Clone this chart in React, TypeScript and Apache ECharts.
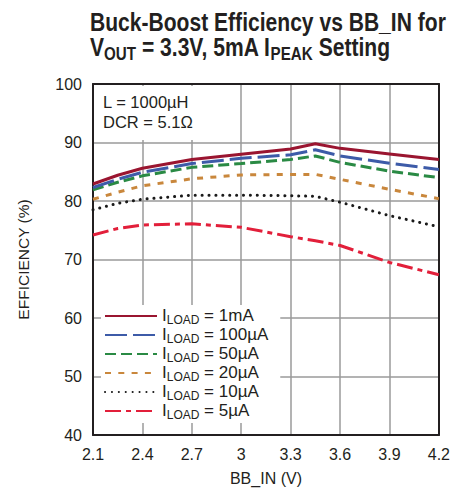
import React, { useEffect, useRef } from 'react';
import * as echarts from 'echarts';

// BB_IN (V) sample points
const bbIn = [2.1, 2.25, 2.4, 2.7, 3.0, 3.3, 3.45, 3.6, 3.9, 4.2];
// Efficiency (%) for each load current
const eff1mA = [82.9, 84.4, 85.6, 87.1, 88.0, 88.9, 89.8, 89.0, 88.05, 87.1];
const eff100uA = [82.3, 83.7, 84.9, 86.4, 87.3, 87.9, 88.75, 87.7, 86.45, 85.4];
const eff50uA = [81.9, 83.2, 84.3, 85.75, 86.4, 87.1, 87.7, 86.6, 85.1, 84.0];
const eff20uA = [80.3, 81.5, 82.6, 83.8, 84.45, 84.55, 84.55, 83.7, 82.0, 80.4];
const eff10uA = [78.5, 79.6, 80.3, 81.0, 81.0, 80.9, 80.8, 79.8, 77.5, 75.6];
const eff5uA = [74.2, 75.3, 75.9, 76.1, 75.5, 73.9, 73.2, 72.4, 69.5, 67.4];

const loadNames = ['1mA', '100µA', '50µA', '20µA', '10µA', '5µA'];
const loadValues = [eff1mA, eff100uA, eff50uA, eff20uA, eff10uA, eff5uA];

const xMin = 2.1;
const xMax = 4.2;
const xStep = 0.3;
const yMin = 40;
const yMax = 100;
const yStep = 10;

const titleLine1 = 'Buck-Boost Efficiency vs BB_IN for';
const noteText = 'L = 1000µH\nDCR = 5.1Ω';

const FONT = "'Liberation Sans', Arial, Helvetica, sans-serif";
const INK = '#231f20';

const styles = [
  { color: '#9a1530', type: 'solid' as any, cap: 'butt' },
  { color: '#3d5ba8', type: [22, 6], cap: 'butt' },
  { color: '#2a8a44', type: [11, 5], cap: 'butt' },
  { color: '#c9873c', type: [6, 7.3], cap: 'butt' },
  { color: '#1a1a1a', type: [0.1, 6.8], cap: 'round' },
  { color: '#e21f3a', type: [16, 5, 5, 5], cap: 'butt' },
];

export default function App() {
  const ref = useRef<HTMLDivElement>(null);

  useEffect(() => {
    if (!ref.current) return;
    const chart = echarts.init(ref.current, undefined, { renderer: 'svg' });

    const series = loadNames.map((name, k) => ({
      type: 'line',
      name,
      data: bbIn.map((v, i) => [v, loadValues[k][i]]),
      symbol: 'none',
      showSymbol: false,
      smooth: false,
      z: 10 - k,
      lineStyle: {
        color: styles[k].color,
        width: 3,
        type: styles[k].type,
        cap: styles[k].cap,
      },
      itemStyle: { color: styles[k].color },
    }));

    const titleMain = {
      fontFamily: FONT,
      fontSize: 25,
      fontWeight: 'bold',
      lineHeight: 28,
      fill: INK,
      color: INK,
      verticalAlign: 'bottom',
    };

    chart.setOption({
      animation: false,
      backgroundColor: '#fff',
      graphic: [
        {
          type: 'text',
          x: 90,
          y: 7,
          scaleX: 0.843,
          z: 20,
          style: {
            text: `{b|${titleLine1}}\n{c|V}{s|OUT}{c| = 3.3V, 5mA I}{s|PEAK}{c| Setting}`,
            fill: INK,
            fontFamily: FONT,
            fontSize: 25,
            fontWeight: 'bold',
            lineHeight: 28,
            rich: {
              b: titleMain,
              c: { ...titleMain, padding: [0, 0, 3, 0] },
              s: {
                fontFamily: FONT,
                fontSize: 18,
                fontWeight: 'bold',
                lineHeight: 18,
                fill: INK,
                color: INK,
                verticalAlign: 'bottom',
              },
            },
          },
        },
      ],
      title: [
        {
          left: 95,
          top: 86,
          padding: [6, 6, 8, 8],
          backgroundColor: '#fff',
          text: noteText,
          textStyle: {
            fontFamily: FONT,
            fontSize: 16.5,
            fontWeight: 'normal',
            lineHeight: 20,
            color: INK,
          },
        },
      ],
      legend: {
        orient: 'vertical',
        left: 101,
        top: 305,
        padding: [2, 12, 2, 3],
        backgroundColor: '#fff',
        itemWidth: 52,
        itemHeight: 14,
        itemGap: 0,
        data: loadNames,
        itemStyle: { color: 'transparent', borderColor: 'transparent', borderWidth: 0, opacity: 0 },
        formatter: (name: string) => `{m|I}{s|LOAD}{m| = ${name}}`,
        textStyle: {
          fontFamily: FONT,
          rich: {
            m: {
              fontFamily: FONT,
              fontSize: 17,
              lineHeight: 20,
              color: INK,
              verticalAlign: 'bottom',
              padding: [0, 0, 2, 0],
            },
            s: {
              fontFamily: FONT,
              fontSize: 12,
              lineHeight: 12,
              color: INK,
              verticalAlign: 'bottom',
            },
          },
        },
      },
      grid: {
        left: 93,
        right: 9,
        top: 84,
        bottom: 57,
        containLabel: false,
      },
      xAxis: [
        {
          type: 'value',
          min: xMin,
          max: xMax,
          interval: xStep,
          name: 'BB_IN (V)',
          nameLocation: 'middle',
          nameGap: 35,
          nameTextStyle: { fontFamily: FONT, fontSize: 16, color: INK },
          axisLine: { show: true, lineStyle: { color: INK, width: 2 } },
          axisTick: { show: false },
          splitLine: { show: true, lineStyle: { color: '#9a9a9a', width: 1.5 } },
          axisLabel: {
            fontFamily: FONT,
            fontSize: 16,
            color: INK,
            margin: 11,
            formatter: (v: number) => String(Number(v.toFixed(1))),
          },
        },
        {
          type: 'value',
          position: 'top',
          min: xMin,
          max: xMax,
          interval: xStep,
          axisLine: { show: true, lineStyle: { color: INK, width: 2 } },
          axisTick: { show: false },
          axisLabel: { show: false },
          splitLine: { show: false },
        },
      ],
      yAxis: [
        {
          type: 'value',
          min: yMin,
          max: yMax,
          interval: yStep,
          name: 'EFFICIENCY (%)',
          nameLocation: 'middle',
          nameGap: 62,
          nameTextStyle: { fontFamily: FONT, fontSize: 15.5, color: INK },
          axisLine: { show: true, lineStyle: { color: INK, width: 2 } },
          axisTick: { show: false },
          splitLine: { show: true, lineStyle: { color: '#9a9a9a', width: 1.5 } },
          axisLabel: { fontFamily: FONT, fontSize: 16, color: INK, margin: 11 },
        },
        {
          type: 'value',
          position: 'right',
          min: yMin,
          max: yMax,
          interval: yStep,
          axisLine: { show: true, lineStyle: { color: INK, width: 2 } },
          axisTick: { show: false },
          axisLabel: { show: false },
          splitLine: { show: false },
        },
      ],
      series,
    });

    return () => chart.dispose();
  }, []);

  return (
    <div
      ref={ref}
      style={{ position: 'fixed', left: 0, top: 0, width: 453, height: 492, background: '#fff' }}
    />
  );
}
